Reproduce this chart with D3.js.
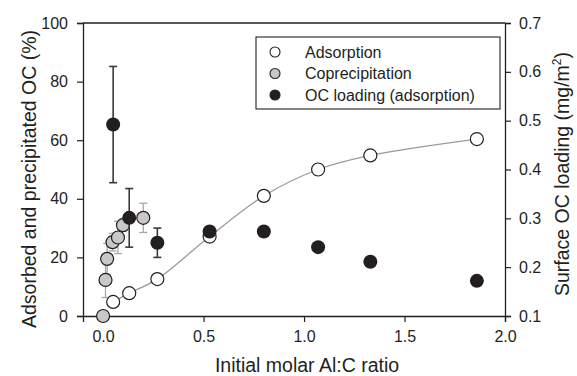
<!DOCTYPE html>
<html>
<head>
<meta charset="utf-8">
<script src="https://cdn.jsdelivr.net/npm/d3@7"></script>
<style>
  html, body { margin: 0; padding: 0; background: #fff; }
  svg { display: block; font-family: 'Liberation Sans', Arial, sans-serif; }
</style>
</head>
<body>
<div id="chart"></div>
<script>
// Adsorption (left axis, %)
const adsX = [0.05, 0.13, 0.27, 0.53, 0.80, 1.07, 1.33, 1.86];
const adsY = [4.8, 7.8, 12.6, 27.1, 41.0, 50.0, 54.8, 60.4];

// Coprecipitation (left axis, %) with error
const copX = [0.0, 0.012, 0.02, 0.047, 0.074, 0.099, 0.20];
const copY = [0.0, 12.3, 19.5, 25.2, 26.8, 31.0, 33.5];
const copErr = [0, 6, 5.3, 3, 5.5, 2, 5];

// OC loading (right axis, mg/m2) with error
const ocX = [0.05, 0.13, 0.27, 0.53, 0.80, 1.07, 1.33, 1.86];
const ocY = [0.492, 0.301, 0.250, 0.273, 0.273, 0.241, 0.211, 0.172];
const ocErr = [0.119, 0.06, 0.03, 0, 0, 0, 0, 0];

const xTicks = [0, 0.5, 1.0, 1.5, 2.0];
const yTicks = [0, 20, 40, 60, 80, 100];
const y2Ticks = [0.1, 0.2, 0.3, 0.4, 0.5, 0.6, 0.7];

const legendItems = [
  { label: 'Adsorption', fill: '#fff' },
  { label: 'Coprecipitation', fill: '#c8c8c8' },
  { label: 'OC loading (adsorption)', fill: '#231f20' },
];

const W = 577, H = 376;
const m = { left: 83, right: 72, top: 23, bottom: 60 };

const svg = d3.select('#chart').append('svg')
  .attr('width', W)
  .attr('height', H);

const x = d3.scaleLinear().domain([-0.1, 2.0]).range([m.left, W - m.right]);
const y = d3.scaleLinear().domain([0, 100]).range([H - m.bottom, m.top]);
const y2 = d3.scaleLinear().domain([0.1, 0.7]).range([H - m.bottom, m.top]);

const ink = '#231f20';

// frame top line
svg.append('line')
  .attr('x1', x(-0.1)).attr('x2', x(2.0))
  .attr('y1', m.top).attr('y2', m.top)
  .attr('stroke', ink).attr('stroke-width', 1.3);

function styleAxis(g, fs) {
  g.select('.domain').attr('stroke', ink).attr('stroke-width', 1.3);
  g.selectAll('.tick line').attr('stroke', ink).attr('stroke-width', 1.2);
  g.selectAll('.tick text').attr('fill', ink).attr('font-size', fs)
    .attr('font-family', "'Liberation Sans', Arial, sans-serif");
}

svg.append('g')
  .attr('transform', `translate(0,${H - m.bottom})`)
  .call(d3.axisBottom(x).tickValues(xTicks).tickFormat(d3.format('.1f'))
    .tickSizeOuter(0).tickSize(6).tickPadding(9))
  .call(g => styleAxis(g, 16));

svg.append('g')
  .attr('transform', `translate(${m.left},0)`)
  .call(d3.axisLeft(y).tickValues(yTicks).tickFormat(d3.format('d'))
    .tickSizeOuter(0).tickSize(6).tickPadding(9))
  .call(g => styleAxis(g, 16));

svg.append('g')
  .attr('transform', `translate(${W - m.right},0)`)
  .call(d3.axisRight(y2).tickValues(y2Ticks).tickFormat(d3.format('.1f'))
    .tickSizeOuter(0).tickSize(6).tickPadding(8))
  .call(g => styleAxis(g, 16));

// axis titles
svg.append('text')
  .attr('x', (m.left + W - m.right) / 2 + 13)
  .attr('y', 372)
  .attr('text-anchor', 'middle')
  .attr('font-size', 19.5)
  .attr('fill', ink)
  .text('Initial molar Al:C ratio');

svg.append('text')
  .attr('transform', 'translate(36,179) rotate(-90)')
  .attr('text-anchor', 'middle')
  .attr('font-size', 19.5)
  .attr('fill', ink)
  .text('Adsorbed and precipitated OC (%)');

const rt = svg.append('text')
  .attr('transform', 'translate(569,174) rotate(-90)')
  .attr('text-anchor', 'middle')
  .attr('font-size', 19.5)
  .attr('fill', ink);
rt.append('tspan').text('Surface OC loading (mg/m');
rt.append('tspan').attr('font-size', 12).attr('dy', -8).text('2');
rt.append('tspan').attr('dy', 8).text(')');

// adsorption curve
const line = d3.line()
  .x(i => x(adsX[i]))
  .y(i => y(adsY[i]))
  .curve(d3.curveCatmullRom.alpha(0.5));
svg.append('path')
  .attr('d', line(d3.range(adsX.length)))
  .attr('fill', 'none')
  .attr('stroke', '#9a9a9a')
  .attr('stroke-width', 1.3);

// error bars
function errBars(xs, ys, es, sy, color, w) {
  const g = svg.append('g').attr('stroke', color).attr('stroke-width', w);
  xs.forEach((xv, i) => {
    if (!es[i]) return;
    const cx = x(xv);
    const y1 = sy(ys[i] + es[i]), y0 = sy(ys[i] - es[i]);
    g.append('line').attr('x1', cx).attr('x2', cx).attr('y1', y1).attr('y2', y0);
    g.append('line').attr('x1', cx - 4).attr('x2', cx + 4).attr('y1', y1).attr('y2', y1);
    g.append('line').attr('x1', cx - 4).attr('x2', cx + 4).attr('y1', y0).attr('y2', y0);
  });
}
errBars(copX, copY, copErr, y, '#a8a8a8', 1.3);

// coprecipitation points
svg.append('g').selectAll('circle')
  .data(d3.range(copX.length))
  .join('circle')
  .attr('cx', i => x(copX[i]))
  .attr('cy', i => y(copY[i]))
  .attr('r', 6.5)
  .attr('fill', '#c8c8c8')
  .attr('stroke', ink)
  .attr('stroke-width', 1.2);

// adsorption points
svg.append('g').selectAll('circle')
  .data(d3.range(adsX.length))
  .join('circle')
  .attr('cx', i => x(adsX[i]))
  .attr('cy', i => y(adsY[i]))
  .attr('r', 6.5)
  .attr('fill', '#fff')
  .attr('stroke', ink)
  .attr('stroke-width', 1.2);

errBars(ocX, ocY, ocErr, y2, '#3a3a3a', 1.6);

// OC loading points
svg.append('g').selectAll('circle')
  .data(d3.range(ocX.length))
  .join('circle')
  .attr('cx', i => x(ocX[i]))
  .attr('cy', i => y2(ocY[i]))
  .attr('r', 7)
  .attr('fill', ink);

// legend
const lg = svg.append('g');
lg.append('rect')
  .attr('x', 256).attr('y', 37)
  .attr('width', 244).attr('height', 72)
  .attr('fill', '#fff')
  .attr('stroke', ink).attr('stroke-width', 1.1);
legendItems.forEach((d, i) => {
  const cy = 52 + i * 21.5;
  lg.append('circle')
    .attr('cx', 275).attr('cy', cy).attr('r', 5)
    .attr('fill', d.fill).attr('stroke', ink).attr('stroke-width', 1.1);
  lg.append('text')
    .attr('x', 305).attr('y', cy)
    .attr('dy', '0.36em')
    .attr('font-size', 16)
    .attr('fill', ink)
    .text(d.label);
});
</script>
</body>
</html>
